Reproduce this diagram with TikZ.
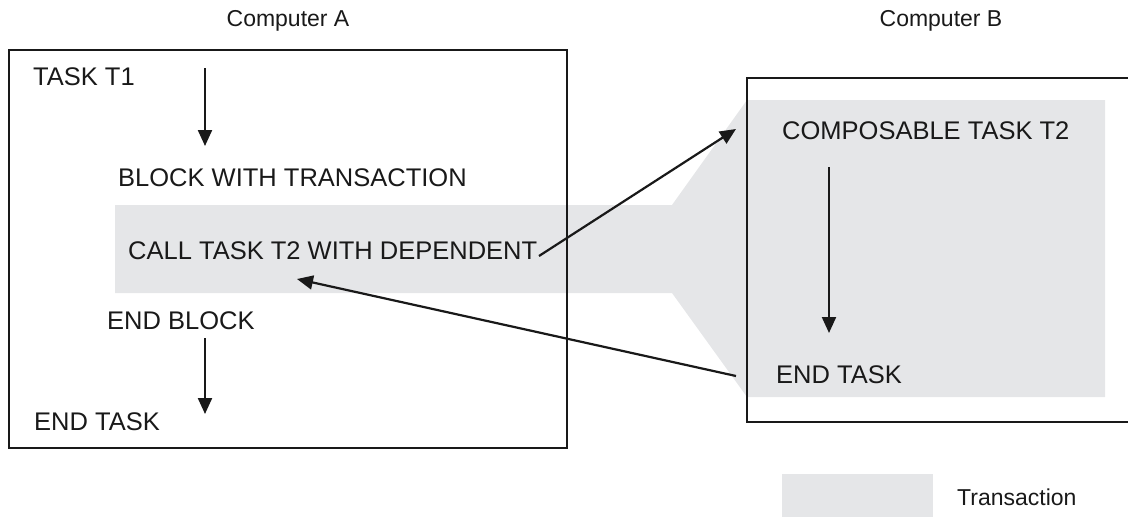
\documentclass[tikz,border=0pt]{standalone}
\usepackage{fontspec}
\setmainfont{Liberation Sans}
\usetikzlibrary{arrows.meta}
\definecolor{txgray}{RGB}{229,230,232}
\definecolor{ink}{RGB}{25,25,25}
\tikzset{
  lbl/.style={anchor=west, inner sep=0pt, font=\fontsize{25.5}{28}\selectfont, text=ink},
  head/.style={anchor=center, inner sep=0pt, font=\fontsize{23}{26}\selectfont, text=ink},
  frame/.style={draw=ink, line width=2.2pt},
  flow/.style={draw=ink, line width=2.2pt, -{Triangle[length=16pt,width=14pt]}},
}
\begin{document}
\begin{tikzpicture}[x=1pt,y=-1pt]
\useasboundingbox (0,0) rectangle (1128,517);
\clip (0,0) rectangle (1128,517);
% transaction shading
\fill[txgray] (115,205) -- (672,205) -- (747,100) -- (1105,100) -- (1105,397) -- (747,397) -- (672,293) -- (115,293) -- cycle;
% legend
\fill[txgray] (782,474) rectangle (933,520);
\node[lbl, font=\fontsize{23}{26}\selectfont] (leg) at (957,497) {Transaction};
% frames
\draw[frame] (9,50) rectangle (567,448);
\draw[frame] (747,78) rectangle (1135,422);
\node[head] (ca) at (288,21) {Computer A};
\node[head] (cb) at (941,21) {Computer B};
% computer A texts
\node[lbl] (t1) at (33,77) {TASK T1};
\node[lbl] (blk) at (118,178) {BLOCK WITH TRANSACTION};
\node[lbl] (call) at (128,251) {CALL TASK T2 WITH DEPENDENT};
\node[lbl] (eb) at (107,321) {END BLOCK};
\node[lbl] (et) at (34,422) {END TASK};
% computer B texts
\node[lbl] (comp) at (782,131) {COMPOSABLE TASK T2};
\node[lbl] (etb) at (776,375) {END TASK};
% arrow anchor points
\coordinate (a1s) at (205,68);
\coordinate (a1e) at (205,146);
\coordinate (a2s) at (205,338);
\coordinate (a2e) at (205,414);
\coordinate (a3s) at (829,167);
\coordinate (a3e) at (829,333);
\coordinate (cs) at (539,256);
\coordinate (ce) at (736,129);
\coordinate (rs) at (736,376);
\coordinate (re) at (297,279);
\draw[flow] (a1s) -- (a1e);
\draw[flow] (a2s) -- (a2e);
\draw[flow] (a3s) -- (a3e);
\draw[flow] (cs) -- (ce);
\draw[flow] (rs) -- (re);
\end{tikzpicture}
\end{document}
